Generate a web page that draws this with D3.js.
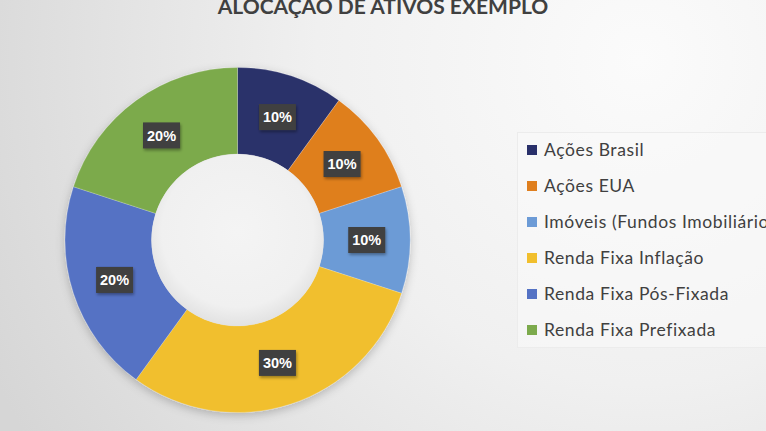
<!DOCTYPE html>
<html>
<head>
<meta charset="utf-8">
<script src="https://cdn.jsdelivr.net/npm/d3@7"></script>
<style>
  html, body { margin: 0; padding: 0; overflow: hidden; }
  #chart { width: 766px; height: 431px; }
</style>
</head>
<body>
<div id="chart"></div>
<script>
const categories = [
  'Ações Brasil',
  'Ações EUA',
  'Imóveis (Fundos Imobiliários)',
  'Renda Fixa Inflação',
  'Renda Fixa Pós-Fixada',
  'Renda Fixa Prefixada'
];
const values = [10, 10, 10, 30, 20, 20];
const colors = ['#29306a', '#df7f1f', '#6c9bd6', '#f1bf2d', '#5472c4', '#7caa4c'];
const title = 'ALOCAÇÃO DE ATIVOS EXEMPLO';

const width = 766;
const height = 431;
const cx = 237.5;
const cy = 240;
const outerR = 172.5;
const innerR = 86;

const svg = d3
  .select('#chart')
  .append('svg')
  .attr('width', width)
  .attr('height', height)
  .attr('viewBox', `0 0 ${width} ${height}`);

const defs = svg.append('defs');

const bg = defs
  .append('radialGradient')
  .attr('id', 'bg')
  .attr('gradientUnits', 'userSpaceOnUse')
  .attr('cx', 640)
  .attr('cy', 60)
  .attr('r', 720);
bg.append('stop').attr('offset', '0%').attr('stop-color', '#fbfbfb');
bg.append('stop').attr('offset', '45%').attr('stop-color', '#f0f0f0');
bg.append('stop').attr('offset', '100%').attr('stop-color', '#d6d6d6');

const hole = defs
  .append('radialGradient')
  .attr('id', 'hole')
  .attr('cx', '50%')
  .attr('cy', '45%')
  .attr('r', '55%');
hole.append('stop').attr('offset', '0%').attr('stop-color', '#f4f4f4');
hole.append('stop').attr('offset', '80%').attr('stop-color', '#f0f0f0');
hole.append('stop').attr('offset', '100%').attr('stop-color', '#e2e2e2');

const shadow = defs
  .append('filter')
  .attr('id', 'shadow')
  .attr('x', '-20%')
  .attr('y', '-20%')
  .attr('width', '140%')
  .attr('height', '140%');
shadow
  .append('feDropShadow')
  .attr('dx', 0)
  .attr('dy', 3)
  .attr('stdDeviation', 5)
  .attr('flood-color', '#000')
  .attr('flood-opacity', 0.22);

const boxShadow = defs
  .append('filter')
  .attr('id', 'boxShadow')
  .attr('x', '-30%')
  .attr('y', '-30%')
  .attr('width', '160%')
  .attr('height', '160%');
boxShadow
  .append('feDropShadow')
  .attr('dx', 1)
  .attr('dy', 2)
  .attr('stdDeviation', 1.5)
  .attr('flood-color', '#000')
  .attr('flood-opacity', 0.35);

svg.append('rect').attr('width', width).attr('height', height).attr('fill', 'url(#bg)');

// title (partly cut at top, as in the reference)
svg
  .append('text')
  .attr('x', 383)
  .attr('y', 14)
  .attr('text-anchor', 'middle')
  .attr('fill', '#404040')
  .style('font-family', 'Lato, sans-serif')
  .style('font-weight', 700)
  .style('font-size', '21px')
  .text(title);

// donut
const pie = d3.pie().sort(null).value(d => d);
const arcs = pie(values);
const arc = d3.arc().innerRadius(innerR).outerRadius(outerR);
const labelArc = d3.arc().innerRadius((innerR + outerR) / 2).outerRadius((innerR + outerR) / 2);

const g = svg.append('g').attr('transform', `translate(${cx}, ${cy})`);

g.append('g')
  .attr('filter', 'url(#shadow)')
  .selectAll('path')
  .data(arcs)
  .join('path')
  .attr('d', arc)
  .attr('fill', (d, i) => colors[i])
  .attr('stroke', '#ffffff')
  .attr('stroke-opacity', 0.35)
  .attr('stroke-width', 0.6);

g.append('circle')
  .attr('r', innerR)
  .attr('fill', 'url(#hole)');

const fmt = d => d3.format('.0%')(d / d3.sum(values));

const labels = g
  .append('g')
  .selectAll('g')
  .data(arcs)
  .join('g')
  .attr('transform', d => `translate(${labelArc.centroid(d)})`);

labels
  .append('rect')
  .attr('x', -18.5)
  .attr('y', -13)
  .attr('width', 37)
  .attr('height', 26)
  .attr('fill', '#3f3f3f')
  .attr('filter', 'url(#boxShadow)');

labels
  .append('text')
  .attr('text-anchor', 'middle')
  .attr('dy', '0.36em')
  .attr('fill', '#ffffff')
  .style('font-family', '"Liberation Sans", Arial, sans-serif')
  .style('font-weight', 700)
  .style('font-size', '14.5px')
  .text(d => fmt(d.data));

// legend
const legend = svg.append('g');

legend
  .append('rect')
  .attr('x', 517.5)
  .attr('y', 132.5)
  .attr('width', 260)
  .attr('height', 215)
  .attr('fill', '#fafafa')
  .attr('fill-opacity', 0.55)
  .attr('stroke', '#ececec')
  .attr('stroke-width', 1);

const legendY = d3.scalePoint().domain(categories).range([150, 330]);

const items = legend
  .selectAll('g')
  .data(categories)
  .join('g')
  .attr('transform', d => `translate(527, ${legendY(d)})`);

items
  .append('rect')
  .attr('x', 0)
  .attr('y', -5)
  .attr('width', 10)
  .attr('height', 10)
  .attr('fill', (d, i) => colors[i]);

items
  .append('text')
  .attr('x', 17)
  .attr('dy', '0.36em')
  .attr('fill', '#404040')
  .style('font-family', 'Lato, sans-serif')
  .style('font-size', '17.5px')
  .style('letter-spacing', '0.6px')
  .text(d => d);
</script>
</body>
</html>
